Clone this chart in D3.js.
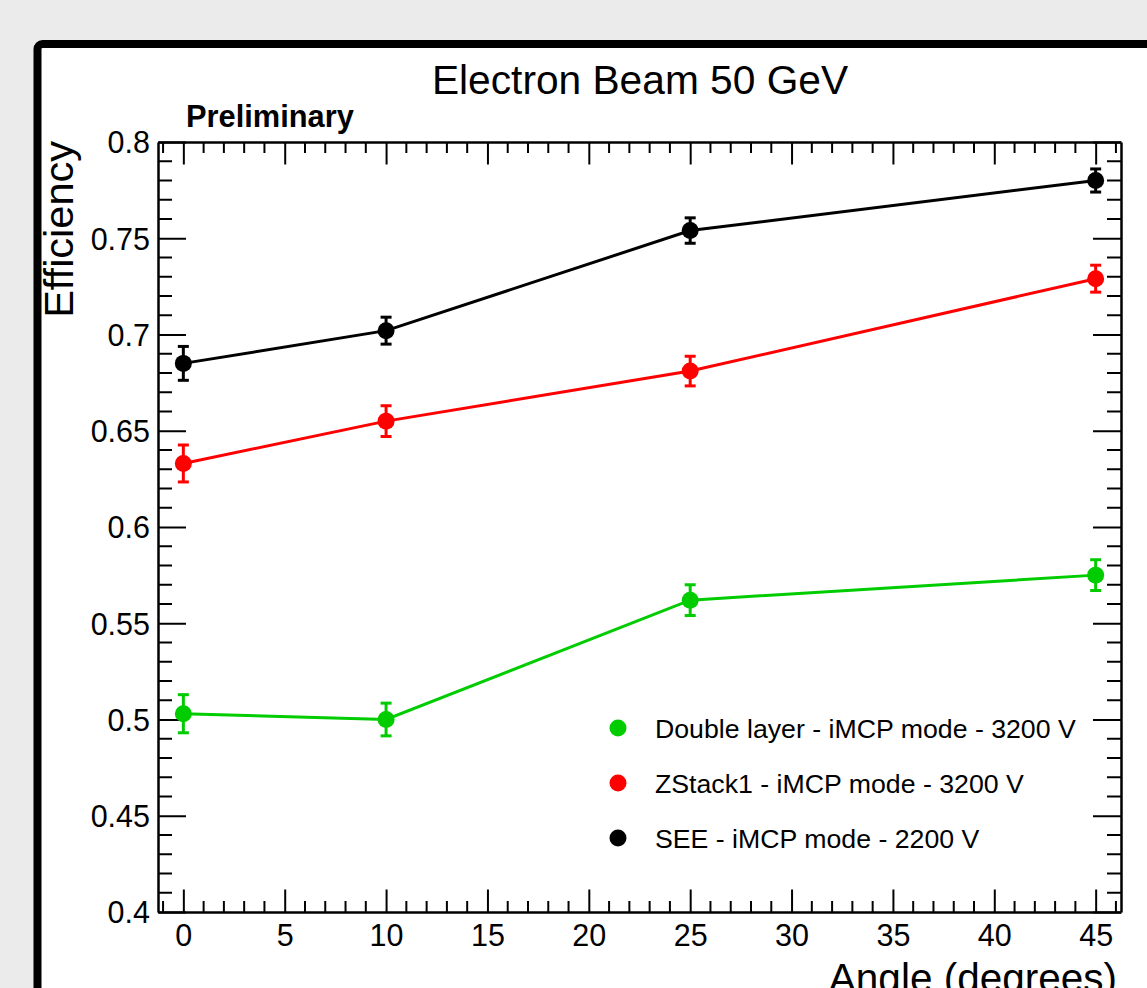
<!DOCTYPE html>
<html>
<head>
<meta charset="utf-8">
<script src="https://cdn.jsdelivr.net/npm/d3@7"></script>
<style>
  html, body { margin: 0; padding: 0; background: #ebebeb; }
  svg { display: block; }
  text { font-family: "Liberation Sans", Arial, Helvetica, sans-serif; fill: #000; }
</style>
</head>
<body>
<svg id="chart" width="1147" height="988"></svg>
<script>
// ---- data ----
const angles = [0, 10, 25, 45];
const seriesNames = [
  "Double layer - iMCP mode - 3200 V",
  "ZStack1 - iMCP mode - 3200 V",
  "SEE - iMCP mode - 2200 V"
];
const seriesColors = ["#00cc00", "#ff0000", "#000000"];
const doubleLayerEff = [0.503, 0.500, 0.562, 0.575];
const doubleLayerErr = [0.0099, 0.0085, 0.008, 0.008];
const zstackEff = [0.633, 0.655, 0.681, 0.729];
const zstackErr = [0.0096, 0.008, 0.0077, 0.007];
const seeEff = [0.685, 0.702, 0.754, 0.780];
const seeErr = [0.0088, 0.007, 0.0066, 0.006];
const xMajorTicks = [0, 5, 10, 15, 20, 25, 30, 35, 40, 45];
const xMinorTicks = d3.range(-1, 47, 1);
const yMajorTicks = [0.4, 0.45, 0.5, 0.55, 0.6, 0.65, 0.7, 0.75, 0.8];
const yMinorTicks = d3.range(40, 81, 1).map(v => v / 100);
const titleText = "Electron Beam 50 GeV";
const prelimText = "Preliminary";
const xTitle = "Angle (degrees)";
const yTitle = "Efficiency";

const series = [
  { name: seriesNames[0], color: seriesColors[0], y: doubleLayerEff, e: doubleLayerErr },
  { name: seriesNames[1], color: seriesColors[1], y: zstackEff, e: zstackErr },
  { name: seriesNames[2], color: seriesColors[2], y: seeEff, e: seeErr }
];

// ---- layout ----
const svg = d3.select("#chart");
const L = 158, R = 1121, T = 142, B = 912;

// canvas frame
svg.append("rect")
  .attr("x", 37.5).attr("y", 44)
  .attr("width", 1200).attr("height", 1100)
  .attr("rx", 5)
  .attr("fill", "#fff").attr("stroke", "#000").attr("stroke-width", 8);

const x = d3.scaleLinear().domain([-1.25, 46.25]).range([L, R]);
const y = d3.scaleLinear().domain([0.4, 0.8]).range([B, T]);

const g = svg.append("g");

// minor ticks
const minorX = g.append("g").attr("stroke", "#000").attr("stroke-width", 2);
xMinorTicks.filter(v => !xMajorTicks.includes(v)).forEach(v => {
  minorX.append("line").attr("x1", x(v)).attr("x2", x(v)).attr("y1", B).attr("y2", B - 11);
  minorX.append("line").attr("x1", x(v)).attr("x2", x(v)).attr("y1", T).attr("y2", T + 11);
});
const minorY = g.append("g").attr("stroke", "#000").attr("stroke-width", 2);
yMinorTicks.filter(v => !yMajorTicks.some(m => Math.abs(m - v) < 1e-9)).forEach(v => {
  minorY.append("line").attr("x1", L).attr("x2", L + 14).attr("y1", y(v)).attr("y2", y(v));
  minorY.append("line").attr("x1", R).attr("x2", R - 14).attr("y1", y(v)).attr("y2", y(v));
});

// major axes
const fmtY = v => d3.format("")(+v.toFixed(2));
const axB = g.append("g").attr("transform", `translate(0,${B})`)
  .call(d3.axisBottom(x).tickValues(xMajorTicks).tickSizeInner(-22.5).tickSizeOuter(0).tickPadding(12));
const axT = g.append("g").attr("transform", `translate(0,${T})`)
  .call(d3.axisTop(x).tickValues(xMajorTicks).tickSizeInner(-22.5).tickSizeOuter(0).tickFormat(""));
const axL = g.append("g").attr("transform", `translate(${L},0)`)
  .call(d3.axisLeft(y).tickValues(yMajorTicks).tickSizeInner(-28).tickSizeOuter(0).tickPadding(8).tickFormat(fmtY));
const axR = g.append("g").attr("transform", `translate(${R},0)`)
  .call(d3.axisRight(y).tickValues(yMajorTicks).tickSizeInner(-28).tickSizeOuter(0).tickFormat(""));

[axB, axT, axL, axR].forEach(a => {
  a.selectAll("path.domain").attr("stroke", "#000").attr("stroke-width", 2.5);
  a.selectAll(".tick line").attr("stroke", "#000").attr("stroke-width", 2);
  a.selectAll(".tick text").attr("font-size", 30.5).attr("font-family", "Liberation Sans, Arial, sans-serif").attr("fill", "#000");
});
axB.selectAll(".tick text").attr("dy", "0.71em").attr("y", 12);
axL.selectAll(".tick text").attr("dy", "0.36em");

// series
series.forEach(s => {
  const pts = angles.map((a, i) => ({ a, v: s.y[i], e: s.e[i] }));
  const line = d3.line().x(d => x(d.a)).y(d => y(d.v));
  const sg = svg.append("g");
  sg.append("path").datum(pts).attr("d", line)
    .attr("fill", "none").attr("stroke", s.color).attr("stroke-width", 3);
  const eb = sg.append("g").attr("stroke", s.color).attr("stroke-width", 3);
  pts.forEach(d => {
    eb.append("line").attr("x1", x(d.a)).attr("x2", x(d.a)).attr("y1", y(d.v - d.e)).attr("y2", y(d.v + d.e));
    eb.append("line").attr("x1", x(d.a) - 5.5).attr("x2", x(d.a) + 5.5).attr("y1", y(d.v - d.e)).attr("y2", y(d.v - d.e));
    eb.append("line").attr("x1", x(d.a) - 5.5).attr("x2", x(d.a) + 5.5).attr("y1", y(d.v + d.e)).attr("y2", y(d.v + d.e));
  });
  sg.selectAll("circle").data(pts).join("circle")
    .attr("cx", d => x(d.a)).attr("cy", d => y(d.v)).attr("r", 8.5).attr("fill", s.color);
});

// legend
const legendYs = [728, 783, 838];
series.forEach((s, i) => {
  svg.append("circle").attr("cx", 618).attr("cy", legendYs[i]).attr("r", 8.5).attr("fill", s.color);
  svg.append("text").attr("x", 655).attr("y", legendYs[i]).attr("dy", "0.36em")
    .attr("font-size", 26.7).text(s.name);
});

// titles
svg.append("text").attr("x", 640).attr("y", 94).attr("text-anchor", "middle")
  .attr("font-size", 40.7).text(titleText);
svg.append("text").attr("x", 186).attr("y", 127).attr("font-weight", "bold")
  .attr("font-size", 30.8).text(prelimText);
svg.append("text").attr("transform", `translate(73,141) rotate(-90)`).attr("text-anchor", "end")
  .attr("font-size", 41.5).text(yTitle);
svg.append("text").attr("x", 1117).attr("y", 992).attr("text-anchor", "end")
  .attr("font-size", 40.5).text(xTitle);
</script>
</body>
</html>
